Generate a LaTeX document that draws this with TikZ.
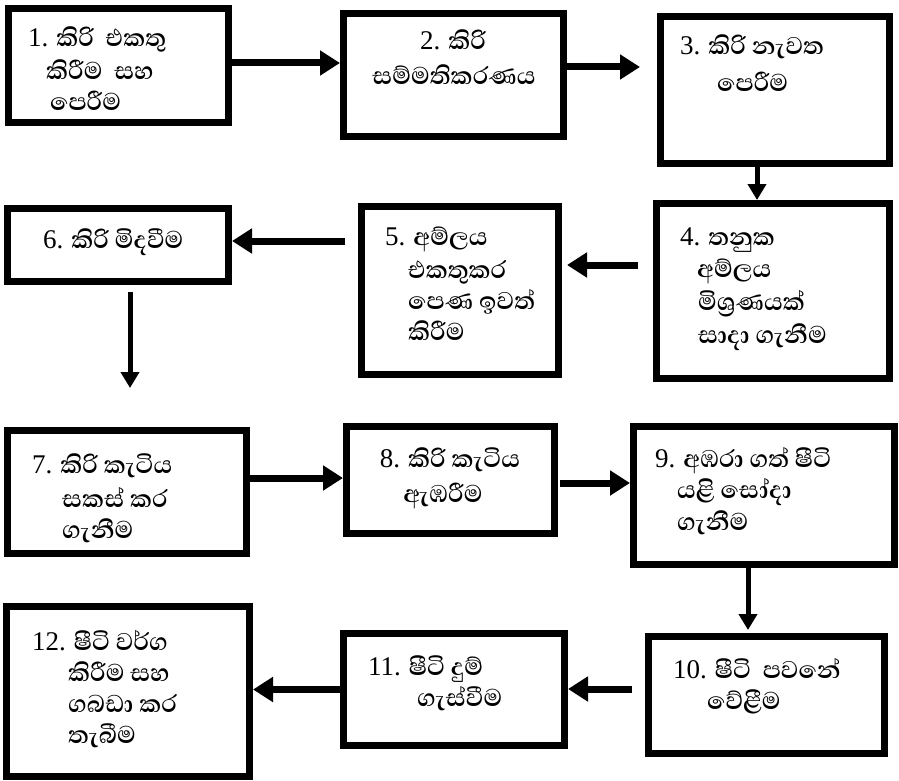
\documentclass[tikz,border=0pt]{standalone}
\usepackage{fontspec}
\setmainfont{Liberation Serif}
\newfontfamily\sinfont[Script=Sinhala]{Abhaya Libre}
\usetikzlibrary{arrows.meta}
\newcommand\nm[1]{{\rmfamily\mdseries\fontsize{27}{30}\selectfont #1}}
\begin{document}
\begin{tikzpicture}[x=1pt,y=-1pt,
  box/.style={draw, line width=7pt, inner sep=0pt, outer sep=3.5pt},
  harr/.style={line width=7pt, -{Triangle[length=20pt,width=24pt]}},
  varr/.style={line width=5pt, -{Triangle[length=16pt,width=18pt]}},
  ln/.style={anchor=base west, inner sep=0pt, font=\sinfont\bfseries\fontsize{31}{34}\selectfont},
  lnc/.style={ln, anchor=base}]
\fill[white] (0,0) rectangle (899,781);
\useasboundingbox (0,0) rectangle (899,781);
% boxes
\node[box, minimum width=220pt, minimum height=114pt] (b1) at (118.5,65.5) {};
\node[box, minimum width=220pt, minimum height=123pt] (b2) at (453.5,75) {};
\node[box, minimum width=229pt, minimum height=147pt] (b3) at (775,90) {};
\node[box, minimum width=233pt, minimum height=175pt] (b4) at (773,291) {};
\node[box, minimum width=197pt, minimum height=168pt] (b5) at (460,290.5) {};
\node[box, minimum width=221pt, minimum height=73pt] (b6) at (118,245) {};
\node[box, minimum width=239pt, minimum height=123pt] (b7) at (127,492) {};
\node[box, minimum width=208pt, minimum height=107pt] (b8) at (450.5,480) {};
\node[box, minimum width=261pt, minimum height=138pt] (b9) at (764,495.5) {};
\node[box, minimum width=236pt, minimum height=117pt] (b10) at (766.5,695) {};
\node[box, minimum width=221pt, minimum height=112pt] (b11) at (454,689.5) {};
\node[box, minimum width=243pt, minimum height=170pt] (b12) at (128,691.5) {};
% texts
\node[ln] (t1a) at (28,47) {\nm{1.} කිරි\ \ එකතු};
\node[ln] (t1b) at (46,80) {කිරීම\ \ සහ};
\node[ln] (t1c) at (50,111) {පෙරීම};
\node[lnc] (t2a) at (453,50) {\nm{2.} කිරි};
\node[lnc] (t2b) at (454,85) {සම්මතිකරණය};
\node[ln] (t3a) at (680,55) {\nm{3.} කිරි නැවත};
\node[ln] (t3b) at (717,92) {පෙරීම};
\node[ln] (t4a) at (680,245) {\nm{4.} තනුක};
\node[ln] (t4b) at (697,277) {අම්ලය};
\node[ln] (t4c) at (698,310) {මිශ්^^^^200dරණයක්};
\node[ln] (t4d) at (698,343) {සාදා ගැනීම};
\node[ln] (t5a) at (385,245) {\nm{5.} අම්ලය};
\node[ln] (t5b) at (408,278) {එකතුකර};
\node[ln] (t5c) at (408,309) {පෙණ ඉවත්};
\node[ln] (t5d) at (408,340) {කිරීම};
\node[ln] (t6a) at (43,248) {\nm{6.} කිරි මිදවීම};
\node[ln] (t7a) at (32,473) {\nm{7.} කිරි කැටිය};
\node[ln] (t7b) at (62,507) {සකස් කර};
\node[ln] (t7c) at (62,538) {ගැනීම};
\node[lnc] (t8a) at (450,467) {\nm{8.} කිරි කැටිය};
\node[lnc] (t8b) at (443,502) {ඇඹරීම};
\node[ln] (t9a) at (655,467) {\nm{9.} අඹරා ගත් ෂීටි};
\node[ln] (t9b) at (677,498) {යළි සෝදා};
\node[ln] (t9c) at (677,530) {ගැනීම};
\node[ln] (t10a) at (673,678) {\nm{10.} ෂීටි\ \ පවනේ};
\node[ln] (t10b) at (707,709) {වේළීම};
\node[ln] (t11a) at (368,675) {\nm{11.} ෂීටි දුම්};
\node[ln] (t11b) at (417,706) {ගැස්වීම};
\node[ln] (t12a) at (32,650) {\nm{12.} ෂීටි වර්ග};
\node[ln] (t12b) at (68,681) {කිරීම සහ};
\node[ln] (t12c) at (68,712) {ගබඩා කර};
\node[ln] (t12d) at (68,743) {තැබීම};
% connectors
\coordinate (p12) at ([yshift=2.5pt]b1.east);
\draw[harr] (p12) -- (p12 -| b2.west);
\coordinate (p23) at ([yshift=8pt]b2.east);
\draw[harr, shorten >=17pt] (p23) -- (p23 -| b3.west);
\coordinate (p34) at ([xshift=-18pt]b3.south);
\draw[varr] (p34) -- (p34 |- b4.north);
\coordinate (p45) at ([yshift=26pt]b4.west);
\draw[harr, shorten <=15pt, shorten >=5pt] (p45) -- (p45 -| b5.east);
\coordinate (p56) at ([yshift=4pt]b6.east);
\draw[harr, shorten <=13pt] (p56 -| b5.west) -- (p56);
\coordinate (p67) at ([xshift=12pt]b6.south);
\draw[varr, shorten <=7pt, shorten >=39pt] (p67) -- (p67 |- b7.north);
\coordinate (p78) at ([yshift=14pt]b7.east);
\draw[harr] (p78) -- (p78 -| b8.west);
\coordinate (p89) at ([yshift=-3pt]b8.east);
\draw[harr, shorten <=2pt] (p89) -- (p89 -| b9.west);
\coordinate (p910) at ([xshift=-16pt]b9.south);
\draw[varr, shorten >=3pt] (p910) -- (p910 |- b10.north);
\coordinate (p1011) at ([yshift=6pt]b10.west);
\draw[harr, shorten <=13pt] (p1011) -- (p1011 -| b11.east);
\draw[harr] (b11.west) -- (b11.west -| b12.east);
\end{tikzpicture}
\end{document}
